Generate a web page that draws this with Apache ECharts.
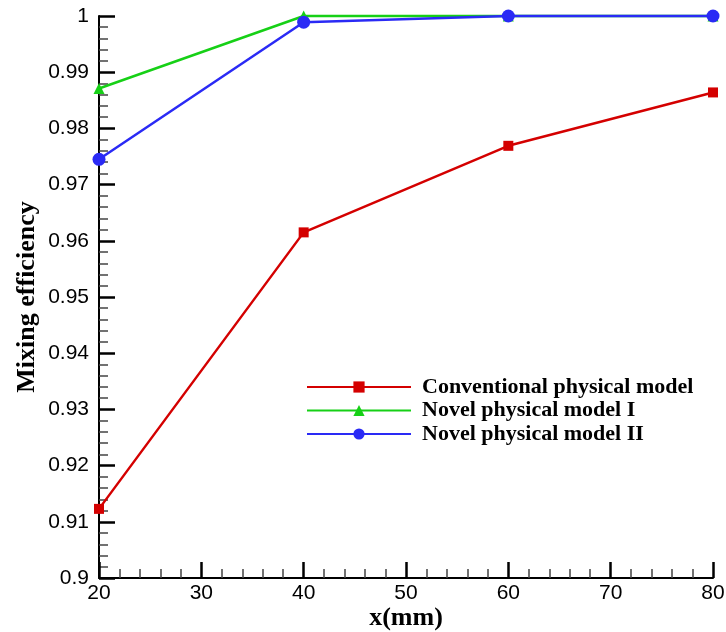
<!DOCTYPE html>
<html><head><meta charset="utf-8">
<script src="https://cdn.jsdelivr.net/npm/echarts@6/dist/echarts.min.js"></script>
<style>html,body{margin:0;padding:0;background:#fff}#c{width:726px;height:632px}</style>
</head><body><div id="c"></div>
<script>
const xValues = [20, 40, 60, 80];
const conventional = [0.9123, 0.9615, 0.9769, 0.9864];
const novelI = [0.9871, 1.0, 1.0, 1.0];
const novelII = [0.9745, 0.9989, 1.0, 1.0];
const seriesNames = ['Conventional physical model', 'Novel physical model I', 'Novel physical model II'];
const xTitle = 'x(mm)';
const yTitle = 'Mixing efficiency';

const pairs = v => xValues.map((x, i) => [x, v[i]]);
const chart = echarts.init(document.getElementById('c'));
const serif = '"Liberation Serif", "Times New Roman", serif';
const sans = '"Liberation Sans", Arial, sans-serif';
chart.setOption({
  animation: false,
  grid: { left: 99, right: 13, top: 16, bottom: 54, containLabel: false, outerBoundsMode: 'none' },
  legend: {
    orient: 'vertical', left: 301, top: 371,
    itemWidth: 104, itemHeight: 14, itemGap: 1.5,
    textStyle: { fontFamily: serif, fontWeight: 'bold', fontSize: 22, lineHeight: 22, color: '#000', padding: [0,0,0,6] },
    data: seriesNames
  },
  xAxis: {
    type: 'value', min: 20, max: 80, interval: 10,
    name: xTitle, nameLocation: 'middle', nameGap: 27, nameMoveOverlap: false,
    nameTextStyle: { fontFamily: serif, fontWeight: 'bold', fontSize: 26, color: '#000' },
    axisLine: { show: true, onZero: false, lineStyle: { color: '#000', width: 2 } },
    axisTick: { show: true, inside: true, length: 16, lineStyle: { color: '#000', width: 2.5 } },
    minorTick: { show: true, splitNumber: 5, length: 9, lineStyle: { color: '#444', width: 1.5 } },
    axisLabel: { fontFamily: sans, fontSize: 21, color: '#000', margin: 5 },
    splitLine: { show: false }
  },
  yAxis: {
    type: 'value', min: 0.9, max: 1.0, interval: 0.01,
    name: yTitle, nameLocation: 'middle', nameGap: 59, nameMoveOverlap: false, nameRotate: 90,
    nameTextStyle: { fontFamily: serif, fontWeight: 'bold', fontSize: 26, color: '#000' },
    axisLine: { show: true, onZero: false, lineStyle: { color: '#000', width: 2 } },
    axisTick: { show: true, inside: true, length: 16, lineStyle: { color: '#000', width: 2.5 } },
    minorTick: { show: true, splitNumber: 5, length: 9, lineStyle: { color: '#444', width: 1.5 } },
    axisLabel: { fontFamily: sans, fontSize: 21, color: '#000', margin: 10,
      formatter: v => String(parseFloat(v.toFixed(2))) },
    splitLine: { show: false }
  },
  series: [
    { name: seriesNames[0], type: 'line', data: pairs(conventional), symbol: 'rect', symbolSize: 10,
      lineStyle: { color: '#d40000', width: 2.5 }, itemStyle: { color: '#d40000' }, clip: false, z: 3 },
    { name: seriesNames[1], type: 'line', data: pairs(novelI), symbol: 'triangle', symbolSize: 11,
      lineStyle: { color: '#16d016', width: 2.5 }, itemStyle: { color: '#16d016' }, clip: false, z: 2 },
    { name: seriesNames[2], type: 'line', data: pairs(novelII), symbol: 'circle', symbolSize: 13,
      lineStyle: { color: '#2a2af5', width: 2.5 }, itemStyle: { color: '#2a2af5' }, clip: false, z: 4 }
  ]
});
</script></body></html>
